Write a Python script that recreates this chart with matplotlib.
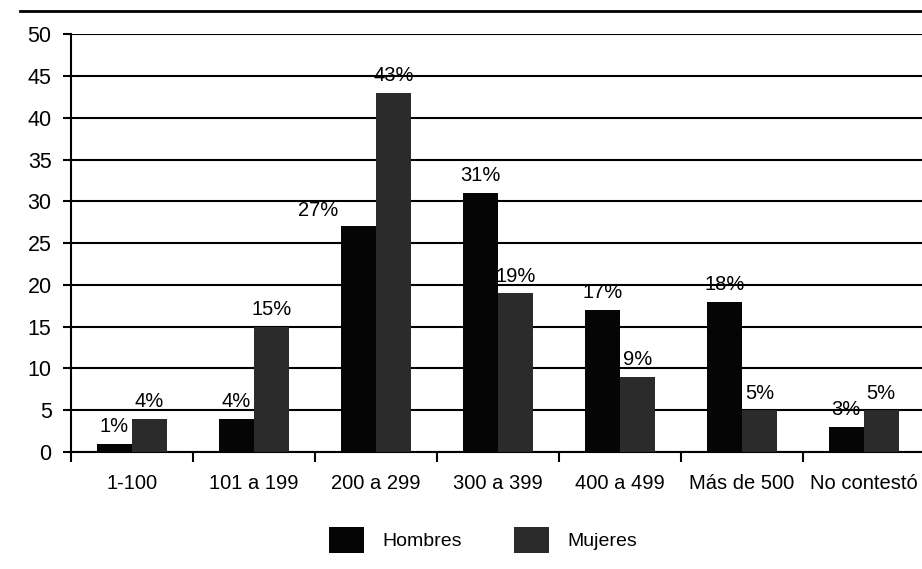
import matplotlib
matplotlib.use('Agg')
import matplotlib.pyplot as plt
import numpy as np

categories = ['1-100', '101 a 199', '200 a 299', '300 a 399', '400 a 499', 'Más de 500', 'No contestó']
hombres = [1, 4, 27, 31, 17, 18, 3]
mujeres = [4, 15, 43, 19, 9, 5, 5]
series_names = ['Hombres', 'Mujeres']
yticks = [0, 5, 10, 15, 20, 25, 30, 35, 40, 45, 50]

plt.rcParams['font.family'] = ['Liberation Sans', 'DejaVu Sans']

fig = plt.figure(figsize=(9.22, 5.69), dpi=100)
ax = fig.add_axes([0.077, 0.2056, 0.926, 0.7344])

x = np.arange(len(categories))
w = 0.287
c_h = '#050505'
c_m = '#2b2b2b'
b1 = ax.bar(x - w / 2, hombres, w, color=c_h, zorder=3)
b2 = ax.bar(x + w / 2, mujeres, w, color=c_m, zorder=3)

for i, (xi, v) in enumerate(zip(x - w / 2, hombres)):
    if v < mujeres[i] and mujeres[i] - v < 20 and v > 10:
        # label would sit on the taller neighbour, so it goes to the left
        ax.text(xi - w / 2 - 0.02, v + 0.8, f'{v}%', ha='right', va='bottom', fontsize=14.5)
    else:
        ax.text(xi, v + 0.9, f'{v}%', ha='center', va='bottom', fontsize=14.5)
for xi, v in zip(x + w / 2, mujeres):
    ax.text(xi, v + 0.9, f'{v}%', ha='center', va='bottom', fontsize=14.5)

ax.set_xlim(-0.5, len(categories) - 0.5)
ax.set_ylim(0, 50)
ax.set_yticks(yticks)
ax.tick_params(axis='y', labelsize=15.5, length=6, width=1.5, direction='out', pad=8)
ax.yaxis.grid(True, color='black', linewidth=1.5, zorder=0)
ax.set_axisbelow(True)

# category labels between boundary ticks
ax.set_xticks(np.arange(len(categories) + 1) - 0.5)
ax.set_xticklabels([])
ax.set_xticks(x, minor=True)
ax.set_xticklabels(categories, minor=True, fontsize=14.5)
ax.tick_params(axis='x', which='major', length=7, width=1.5, direction='out')
ax.tick_params(axis='x', which='minor', length=0, pad=16)

for s in ['top', 'right']:
    ax.spines[s].set_visible(False)
ax.spines['left'].set_linewidth(1.5)
ax.spines['bottom'].set_linewidth(1.5)

# rule across the top of the page
fig.add_artist(plt.Line2D([20 / 922, 1.0], [1 - 11 / 569, 1 - 11 / 569], color='black', linewidth=2))

leg = fig.legend([b1, b2], series_names, loc='center', bbox_to_anchor=(0.524, 0.051),
                 ncol=2, frameon=False, fontsize=14, handlelength=1.8, handleheight=1.65,
                 columnspacing=2.7, handletextpad=0.93, borderpad=0)

fig.savefig('out.png', dpi=100)
